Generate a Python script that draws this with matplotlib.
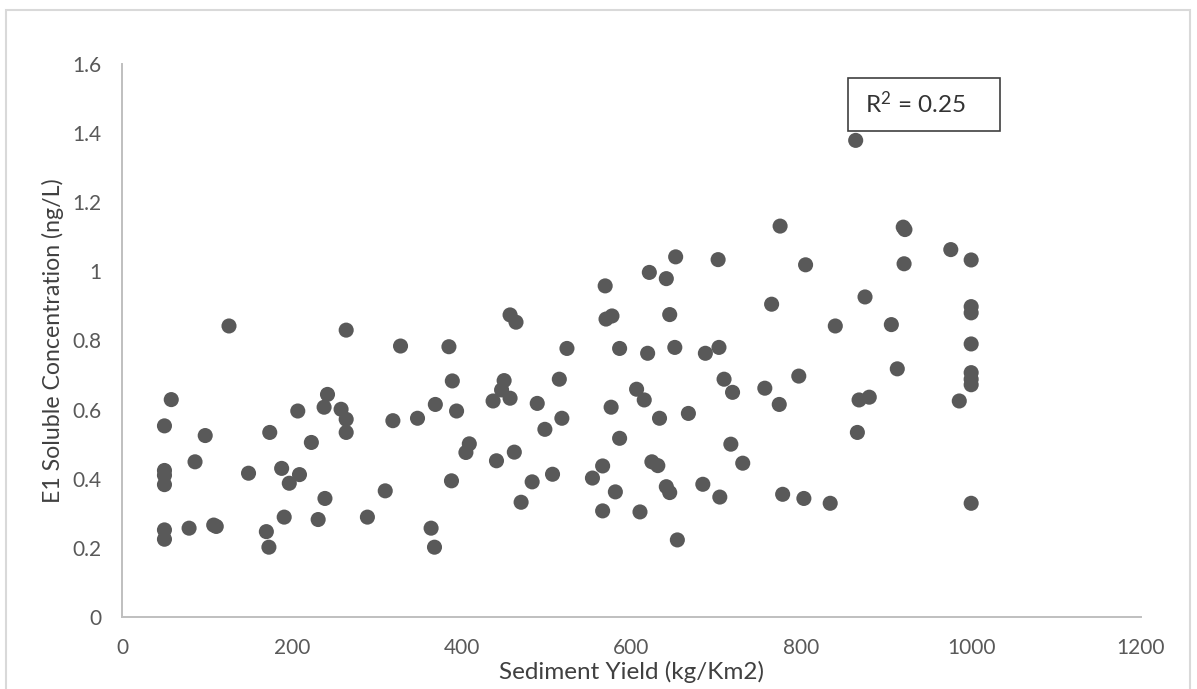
import matplotlib
matplotlib.use("Agg")
import matplotlib.pyplot as plt
from matplotlib.patches import Rectangle

# Sediment yield (kg/Km2) and E1 soluble concentration (ng/L) per sample
sediment_yield = [
    50, 50, 50, 50, 50, 50, 58, 79, 86, 98, 108, 111, 126, 149, 170, 173, 174,
    188, 191, 197, 207, 209, 223, 231, 238, 239, 242, 258, 264, 264, 264, 289,
    310, 319, 328, 348, 364, 368, 369, 385, 388, 389, 394, 405, 409, 437, 441,
    447, 450, 457, 457, 462, 464, 470, 483, 489, 498, 507, 515, 518, 524, 554,
    566, 566, 569, 570, 576, 577, 581, 586, 586, 606, 610, 615, 619, 621, 624,
    631, 633, 641, 641, 645, 645, 651, 652, 654, 667, 684, 687, 702, 703, 704,
    709, 717, 719, 731, 757, 765, 775, 774, 778, 797, 803, 805, 834, 840, 864,
    866, 868, 875, 880, 906, 913, 920, 922, 921, 976, 986,
    1000, 1000, 1000, 1000, 1000, 1000, 1000, 1000,
]
e1_concentration = [
    0.553, 0.424, 0.410, 0.383, 0.252, 0.225, 0.629, 0.257, 0.449, 0.525,
    0.266, 0.262, 0.842, 0.416, 0.247, 0.202, 0.534, 0.430, 0.289, 0.387,
    0.596, 0.412, 0.505, 0.282, 0.607, 0.343, 0.644, 0.601, 0.830, 0.572,
    0.534, 0.289, 0.365, 0.568, 0.784, 0.575, 0.257, 0.202, 0.615, 0.782,
    0.394, 0.683, 0.596, 0.476, 0.501, 0.625, 0.452, 0.657, 0.684, 0.874,
    0.633, 0.477, 0.853, 0.332, 0.391, 0.618, 0.543, 0.413, 0.688, 0.575,
    0.777, 0.402, 0.437, 0.307, 0.958, 0.862, 0.607, 0.871, 0.362, 0.777,
    0.517, 0.659, 0.304, 0.628, 0.763, 0.997, 0.449, 0.438, 0.575, 0.979,
    0.377, 0.875, 0.360, 0.780, 1.042, 0.223, 0.589, 0.384, 0.763, 1.034,
    0.780, 0.347, 0.688, 0.500, 0.650, 0.445, 0.662, 0.905, 1.131, 0.615,
    0.355, 0.697, 0.343, 1.019, 0.329, 0.842, 1.379, 0.534, 0.628, 0.926,
    0.636, 0.846, 0.718, 1.128, 1.121, 1.022, 1.063, 0.625,
    1.033, 0.898, 0.880, 0.790, 0.707, 0.688, 0.672, 0.329,
]

x_ticks = [0, 200, 400, 600, 800, 1000, 1200]
y_ticks = [0, 0.2, 0.4, 0.6, 0.8, 1.0, 1.2, 1.4, 1.6]
y_tick_labels = ["0", "0.2", "0.4", "0.6", "0.8", "1", "1.2", "1.4", "1.6"]
r_squared = 0.25

plt.rcParams["font.family"] = ["Lato", "DejaVu Sans"]
plt.rcParams["mathtext.fontset"] = "custom"
plt.rcParams["mathtext.rm"] = "Lato"
plt.rcParams["mathtext.it"] = "Lato"

W, H = 1197, 689
fig = plt.figure(figsize=(W / 100, H / 100), dpi=100)
ax = fig.add_axes([122 / W, 1 - 617 / H, (1141 - 122) / W, (617 - 64) / H])

ax.scatter(sediment_yield, e1_concentration, s=118, color="#595959",
           edgecolors="none", zorder=3, clip_on=False)

ax.set_xlim(0, 1200)
ax.set_ylim(0, 1.6)
ax.set_xticks(x_ticks)
ax.set_xticklabels([str(v) for v in x_ticks])
ax.set_yticks(y_ticks)
ax.set_yticklabels(y_tick_labels)
ax.tick_params(axis="both", length=0, labelsize=15, colors="#595959")
ax.tick_params(axis="x", pad=15)
ax.tick_params(axis="y", pad=15)

for side in ("top", "right"):
    ax.spines[side].set_visible(False)
for side in ("left", "bottom"):
    ax.spines[side].set_color("#bfbfbf")
    ax.spines[side].set_linewidth(1.4)

ax.set_xlabel("Sediment Yield (kg/Km2)", fontsize=17.5, color="#404040", labelpad=2)
ax.set_ylabel("E1 Soluble Concentration (ng/L)", fontsize=16.7, color="#404040",
              labelpad=6)

# R-squared annotation box
ax.text(865 / W, 1 - 104 / H, f"R$^{{2}}$ = {r_squared:.2f}", transform=fig.transFigure,
        fontsize=17.5, color="#333333", va="center", ha="left")
fig.patches.append(Rectangle((848 / W, 1 - 131 / H), (1000 - 848) / W, (131 - 78) / H,
                             transform=fig.transFigure, fill=False,
                             edgecolor="#404040", linewidth=1.2))

# Outer chart-area frame
fig.patches.append(Rectangle((6 / W, -0.05), (1190 - 6) / W, 1 - 10 / H + 0.05,
                             transform=fig.transFigure, fill=False,
                             edgecolor="#d9d9d9", linewidth=1.5))

fig.savefig("out.png", dpi=100)
